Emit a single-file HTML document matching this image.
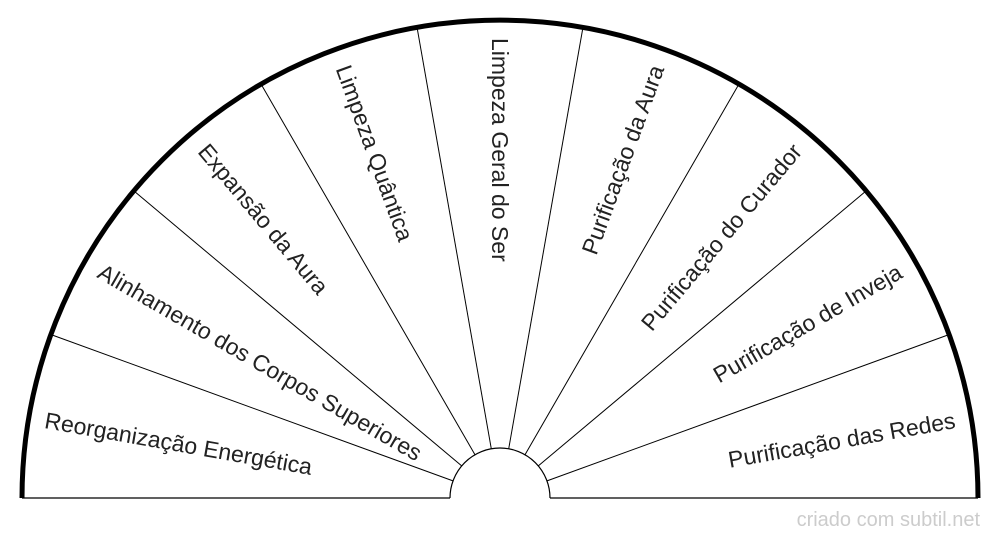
<!DOCTYPE html>
<html><head><meta charset="utf-8"><style>
html,body{margin:0;padding:0;background:#fff;}
svg{display:block;}
</style></head><body>
<svg width="1000" height="540" viewBox="0 0 1000 540" xmlns="http://www.w3.org/2000/svg">
<g fill="none" stroke="#000">
<path d="M22,498 A478,478 0 0 1 978,498" stroke-width="5"/>
<path d="M22,498 L450,498 M550,498 L978,498" stroke-width="1.2"/>
<path d="M450,498 A50,50 0 0 1 550,498" stroke-width="1.2"/>
<g stroke-width="1">
<line x1="453.0" y1="480.9" x2="51.8" y2="334.9"/>
<line x1="461.7" y1="465.9" x2="134.3" y2="191.3"/>
<line x1="475.0" y1="454.7" x2="261.5" y2="84.9"/>
<line x1="491.3" y1="448.8" x2="417.2" y2="28.3"/>
<line x1="508.7" y1="448.8" x2="582.8" y2="28.3"/>
<line x1="525.0" y1="454.7" x2="738.5" y2="84.9"/>
<line x1="538.3" y1="465.9" x2="865.7" y2="191.3"/>
<line x1="547.0" y1="480.9" x2="948.2" y2="334.9"/>
</g>
</g>
<g font-family="Liberation Sans, sans-serif" font-size="23" fill="#222" dominant-baseline="central">
<text transform="translate(45,420) rotate(10)" text-anchor="start">Reorganização Energética</text>
<text transform="translate(100,270) rotate(30)" text-anchor="start">Alinhamento dos Corpos Superiores</text>
<text transform="translate(203,147) rotate(50)" text-anchor="start">Expansão da Aura</text>
<text transform="translate(343,66) rotate(70)" text-anchor="start">Limpeza Quântica</text>
<text transform="translate(500,38) rotate(90)" text-anchor="start">Limpeza Geral do Ser</text>
<text transform="translate(657,66) rotate(-70)" text-anchor="end">Purificação da Aura</text>
<text transform="translate(797,147) rotate(-50)" text-anchor="end">Purificação do Curador</text>
<text transform="translate(900,270) rotate(-30)" text-anchor="end">Purificação de Inveja</text>
<text transform="translate(955,420) rotate(-10)" text-anchor="end">Purificação das Redes</text>
</g>
<text x="980" y="526" text-anchor="end" font-family="Liberation Sans, sans-serif" font-size="20" fill="#cccccc">criado com subtil.net</text>
</svg>
</body></html>
